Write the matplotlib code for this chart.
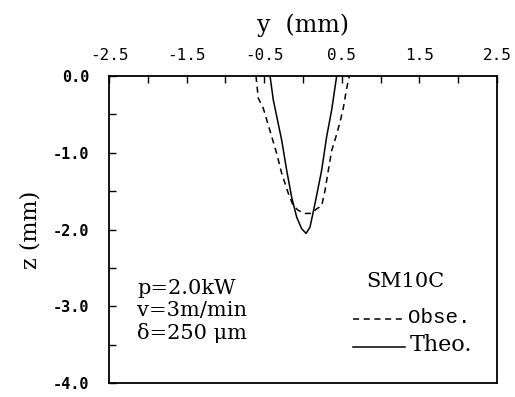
import matplotlib
matplotlib.use("Agg")
import matplotlib.pyplot as plt
import numpy as np

# Theoretical (solid) profile
theo_y = [-0.425, -0.383, -0.274, -0.21, -0.146, -0.081, -0.017, 0.039, 0.09, 0.155, 0.24, 0.305, 0.37, 0.434]
theo_z = [0.0, -0.31, -0.84, -1.23, -1.58, -1.84, -1.99, -2.05, -1.97, -1.66, -1.23, -0.79, -0.44, 0.0]

# Observed (dashed) profile
obs_y = [-0.606, -0.576, -0.512, -0.447, -0.403, -0.339, -0.274, -0.189, -0.125, -0.061, 0.026, 0.112, 0.177,
         0.241, 0.284, 0.326, 0.37, 0.425, 0.477, 0.519, 0.563, 0.597]
obs_z = [0.0, -0.29, -0.42, -0.64, -0.79, -1.01, -1.27, -1.53, -1.69, -1.75, -1.79, -1.79, -1.73,
         -1.69, -1.49, -1.23, -0.97, -0.79, -0.6, -0.42, -0.16, 0.0]

xtick_labels = ["-2.5", "-1.5", "-0.5", "0.5", "1.5", "2.5"]
xtick_vals = [-2.5, -1.5, -0.5, 0.5, 1.5, 2.5]
ytick_labels = ["0.0", "-1.0", "-2.0", "-3.0", "-4.0"]
ytick_vals = [0.0, -1.0, -2.0, -3.0, -4.0]

fig = plt.figure(figsize=(5.15, 3.97), dpi=100)
ax = fig.add_axes([0.2117, 0.035, 0.7533, 0.7736])
ax.plot(theo_y, theo_z, color="black", lw=1.1, solid_joinstyle="round")
ax.plot(obs_y, obs_z, color="black", lw=1.1, dashes=(4, 3))
ax.set_xlim(-2.5, 2.5)
ax.set_ylim(-4.0, 0.0)

for s in ax.spines.values():
    s.set_linewidth(1.3)

ax.xaxis.tick_top()
ax.xaxis.set_label_position("top")
ax.set_xticks(xtick_vals)
ax.set_xticklabels(xtick_labels, family="DejaVu Sans Mono", fontsize=11.5)
ax.set_xticks(np.arange(-2.5, 2.51, 0.5), minor=True)
ax.set_yticks(ytick_vals)
ax.set_yticklabels(ytick_labels, family="DejaVu Sans Mono", fontsize=11, fontweight="bold")
ax.set_yticks(np.arange(-4.0, 0.01, 0.5), minor=True)
ax.tick_params(which="both", direction="in", top=True, bottom=False, left=True, right=False,
               length=5, width=1.0)
ax.tick_params(axis="x", which="major", pad=9)
ax.tick_params(axis="y", which="major", pad=14)

ax.set_xlabel("y  (mm)", family="DejaVu Serif", fontsize=17, labelpad=12)
ax.set_ylabel("z (mm)", family="DejaVu Serif", fontsize=16, labelpad=8)

tf = dict(family="DejaVu Serif", fontsize=15, transform=ax.transData, va="center")
ax.text(-2.14, -2.77, "p=2.0kW", **tf)
ax.text(-2.14, -3.06, "v=3m/min", **tf)
ax.text(-2.14, -3.35, "δ=250 μm", **tf)
ax.text(0.82, -2.68, "SM10C", **tf)
ax.plot([0.65, 1.27], [-3.16, -3.16], color="black", lw=1.1, dashes=(4, 3))
ax.plot([0.65, 1.32], [-3.53, -3.53], color="black", lw=1.1)
ax.text(1.35, -3.14, "Obse.", family="Liberation Mono", fontsize=15, va="center")
ax.text(1.37, -3.50, "Theo.", family="DejaVu Serif", fontsize=16, va="center")

fig.savefig("out.png", dpi=100)
